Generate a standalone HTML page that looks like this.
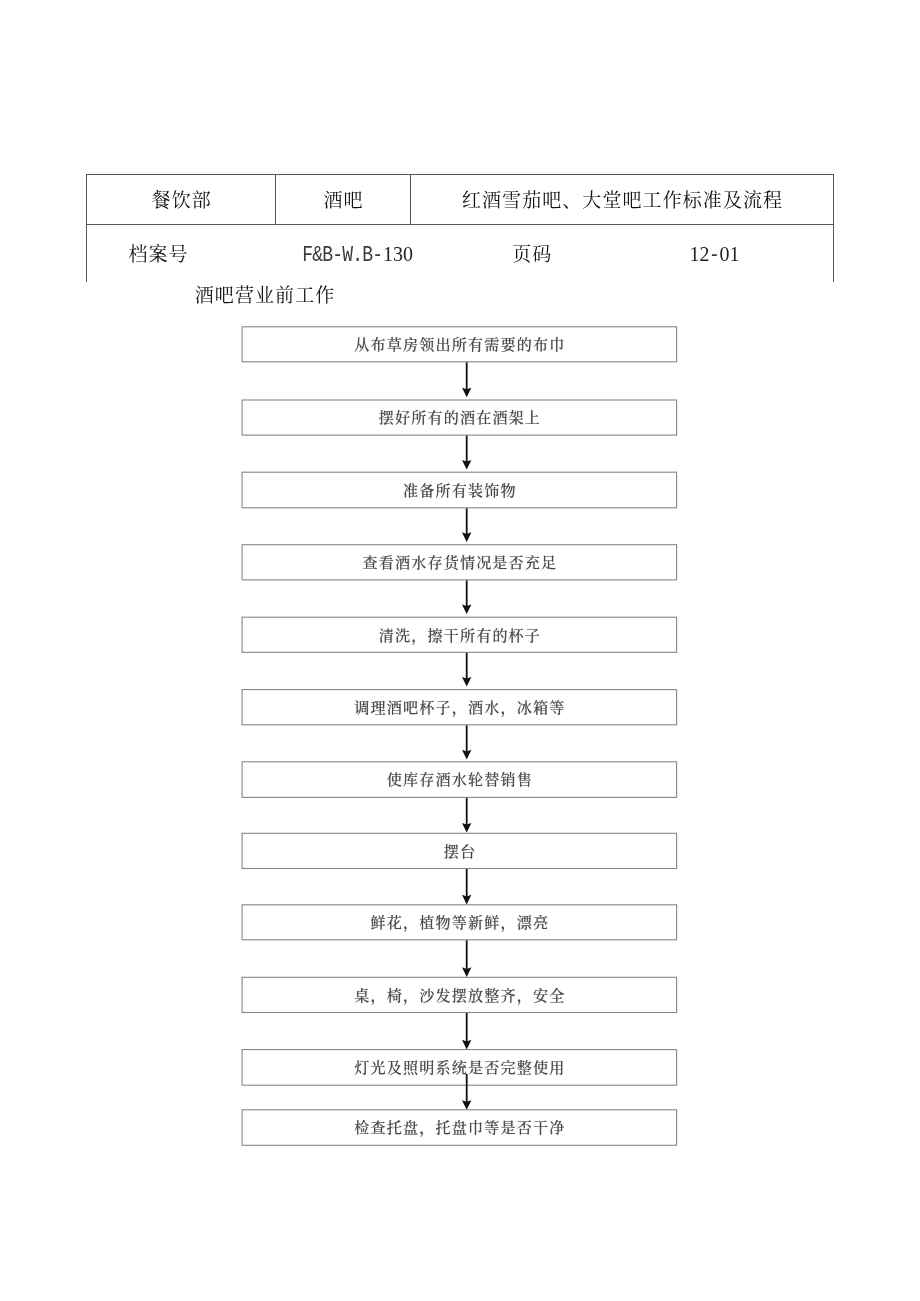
<!DOCTYPE html>
<html lang="zh-CN">
<head>
<meta charset="utf-8">
<title>酒吧营业前工作</title>
<style>
html,body{margin:0;padding:0;background:#fff;}
body{width:920px;height:1301px;position:relative;overflow:hidden;
 font-family:"Liberation Serif","Noto Serif CJK SC",serif;color:#111;}
.pg{position:absolute;left:0;top:0;width:920px;height:1301px;will-change:transform;}
.ln{position:absolute;background:#555;}
.t{position:absolute;font-size:19px;letter-spacing:1.08px;padding-left:1.08px;box-sizing:border-box;line-height:24px;height:24px;white-space:nowrap;text-align:center;font-weight:400;}
.lat{font-family:"Liberation Mono","Noto Serif CJK SC",monospace;font-size:18px;letter-spacing:-0.8px;display:inline-block;transform:translate(-0.6px,-0.8px) scaleY(1.22);transform-origin:50% 78%;color:#3a3a3a;}
.bt{position:absolute;left:242px;width:435px;box-sizing:border-box;padding-left:0.8px;
 font-size:15.1px;letter-spacing:1.15px;line-height:24px;height:24px;text-align:center;white-space:nowrap;color:#484848;font-weight:500;text-shadow:0 0 1px rgba(0,0,0,.3);}
.num{font-family:"Liberation Serif","Noto Serif CJK SC",serif;font-size:20px;letter-spacing:0;display:inline-block;transform:translateY(-1.2px) scaleY(1.05);transform-origin:50% 78%;color:#222;}
.fc{position:absolute;left:0;top:0;overflow:visible;}
</style>
</head>
<body>
<div class="pg">
<div class="ln" style="left:86px;top:174px;width:748px;height:1px"></div>
<div class="ln" style="left:86px;top:224px;width:748px;height:1px"></div>
<div class="ln" style="left:86px;top:174px;width:1px;height:108px"></div>
<div class="ln" style="left:833px;top:174px;width:1px;height:108px"></div>
<div class="ln" style="left:275px;top:174px;width:1px;height:50px"></div>
<div class="ln" style="left:410px;top:174px;width:1px;height:50px"></div>
<div class="t" style="left:91.2px;top:189.2px;width:180px">餐饮部</div>
<div class="t" style="left:278.0px;top:189.2px;width:130px">酒吧</div>
<div class="t" style="left:412.0px;top:189.2px;width:420px">红酒雪茄吧、大堂吧工作标准及流程</div>
<div class="t" style="left:88.0px;top:243.0px;width:140px">档案号</div>
<div class="t" style="left:277.4px;top:243.0px;width:160px"><span class="lat">F&amp;B-W.B-</span><span class="num">130</span></div>
<div class="t" style="left:471.8px;top:243.0px;width:120px">页码</div>
<div class="t" style="left:654.0px;top:243.0px;width:120px"><span class="num">12</span><span class="lat">-</span><span class="num">01</span></div>
<div class="t" style="left:164.5px;top:283.7px;width:200px">酒吧营业前工作</div>
<svg class="fc" width="920" height="1301" viewBox="0 0 920 1301">
<g fill="#fff" stroke="#868686" stroke-width="1.1">
<rect x="242.1" y="326.8" width="434.5" height="35.0"/>
<rect x="242.1" y="400.0" width="434.5" height="35.1"/>
<rect x="242.1" y="472.2" width="434.5" height="35.6"/>
<rect x="242.1" y="544.7" width="434.5" height="35.2"/>
<rect x="242.1" y="617.2" width="434.5" height="35.1"/>
<rect x="242.1" y="689.6" width="434.5" height="35.2"/>
<rect x="242.1" y="761.8" width="434.5" height="35.6"/>
<rect x="242.1" y="833.3" width="434.5" height="35.2"/>
<rect x="242.1" y="904.8" width="434.5" height="35.0"/>
<rect x="242.1" y="977.3" width="434.5" height="35.2"/>
<rect x="242.1" y="1049.6" width="434.5" height="35.6"/>
<rect x="242.1" y="1109.8" width="434.5" height="35.5"/>
</g>
<path d="M466.7 362.3 V392.3" stroke="#111" stroke-width="1.8" fill="none"/><path d="M462.0 387.7 L466.7 397.3 L471.4 387.7 L466.7 389.3 Z" fill="#111"/>
<path d="M466.7 435.6 V464.5" stroke="#111" stroke-width="1.8" fill="none"/><path d="M462.0 459.9 L466.7 469.5 L471.4 459.9 L466.7 461.5 Z" fill="#111"/>
<path d="M466.7 508.3 V536.9" stroke="#111" stroke-width="1.8" fill="none"/><path d="M462.0 532.3 L466.7 541.9 L471.4 532.3 L466.7 533.9 Z" fill="#111"/>
<path d="M466.7 580.4 V609.0" stroke="#111" stroke-width="1.8" fill="none"/><path d="M462.0 604.4 L466.7 614.0 L471.4 604.4 L466.7 606.0 Z" fill="#111"/>
<path d="M466.7 652.8 V681.5" stroke="#111" stroke-width="1.8" fill="none"/><path d="M462.0 676.9 L466.7 686.5 L471.4 676.9 L466.7 678.5 Z" fill="#111"/>
<path d="M466.7 725.3 V754.4" stroke="#111" stroke-width="1.8" fill="none"/><path d="M462.0 749.8 L466.7 759.4 L471.4 749.8 L466.7 751.4 Z" fill="#111"/>
<path d="M466.7 797.9 V827.5" stroke="#111" stroke-width="1.8" fill="none"/><path d="M462.0 822.9 L466.7 832.5 L471.4 822.9 L466.7 824.5 Z" fill="#111"/>
<path d="M466.7 869.0 V899.4" stroke="#111" stroke-width="1.8" fill="none"/><path d="M462.0 894.8 L466.7 904.4 L471.4 894.8 L466.7 896.4 Z" fill="#111"/>
<path d="M466.7 940.3 V971.9" stroke="#111" stroke-width="1.8" fill="none"/><path d="M462.0 967.3 L466.7 976.9 L471.4 967.3 L466.7 968.9 Z" fill="#111"/>
<path d="M466.7 1013.0 V1044.4" stroke="#111" stroke-width="1.8" fill="none"/><path d="M462.0 1039.8 L466.7 1049.4 L471.4 1039.8 L466.7 1041.4 Z" fill="#111"/>
<path d="M466.7 1074.0 V1104.8" stroke="#111" stroke-width="1.8" fill="none"/><path d="M462.0 1100.2 L466.7 1109.8 L471.4 1100.2 L466.7 1101.8 Z" fill="#111"/>
</svg>
<div class="bt" style="top:333px">从布草房领出所有需要的布巾</div>
<div class="bt" style="top:406px">摆好所有的酒在酒架上</div>
<div class="bt" style="top:479px">准备所有装饰物</div>
<div class="bt" style="top:551px">查看酒水存货情况是否充足</div>
<div class="bt" style="top:624px">清洗，擦干所有的杯子</div>
<div class="bt" style="top:696px">调理酒吧杯子，酒水，冰箱等</div>
<div class="bt" style="top:768px">使库存酒水轮替销售</div>
<div class="bt" style="top:840px">摆台</div>
<div class="bt" style="top:911px">鲜花，植物等新鲜，漂亮</div>
<div class="bt" style="top:984px">桌，椅，沙发摆放整齐，安全</div>
<div class="bt" style="top:1056px">灯光及照明系统是否完整使用</div>
<div class="bt" style="top:1116px">检查托盘，托盘巾等是否干净</div>
</div>
</body>
</html>
